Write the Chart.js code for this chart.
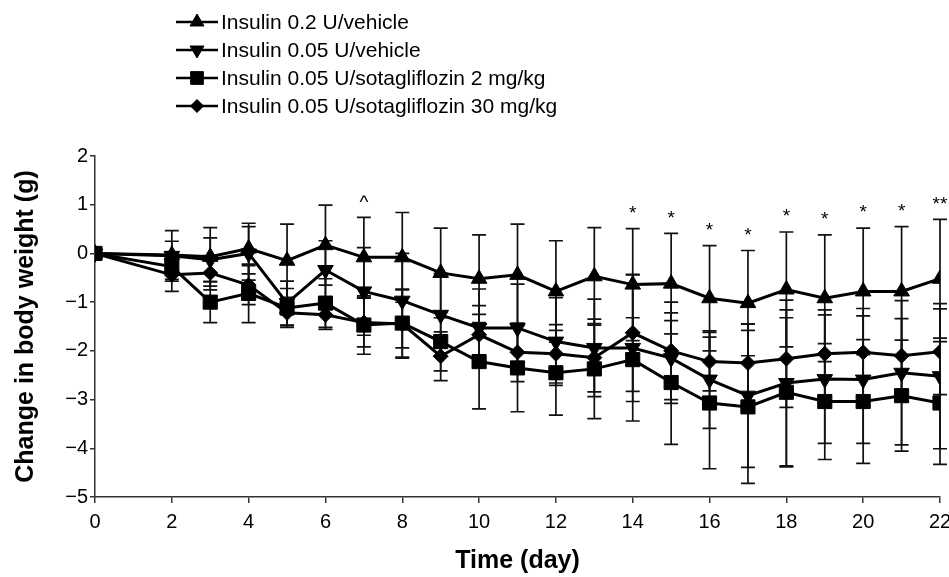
<!DOCTYPE html>
<html lang="en">
<head>
  <meta charset="UTF-8">
  <title>Change in body weight</title>
  <script src="https://cdn.jsdelivr.net/npm/chart.js"></script>
  <style>
    html, body { margin: 0; padding: 0; background: #fff; }
    #wrap { width: 949px; height: 577px; }
  </style>
</head>
<body>
<div id="wrap"><canvas id="weightChart" width="949" height="577"></canvas></div>

<script>
  // days on the x axis
  const days = [0, 2, 3, 4, 5, 6, 7, 8, 9, 10, 11, 12, 13, 14, 15, 16, 17, 18, 19, 20, 21, 22];

  const seriesNames = [
    'Insulin 0.2 U/vehicle',
    'Insulin 0.05 U/vehicle',
    'Insulin 0.05 U/sotagliflozin 2 mg/kg',
    'Insulin 0.05 U/sotagliflozin 30 mg/kg'
  ];

  // mean change in body weight (g)
  const ins02Vehicle = [0, -0.03, -0.07, 0.1, -0.15, 0.17, -0.08, -0.08, -0.4, -0.52, -0.44, -0.78, -0.47, -0.64, -0.62, -0.92, -1.02, -0.74, -0.92, -0.78, -0.78, -0.52];
  const ins005Vehicle = [0, -0.05, -0.13, 0.0, -1.02, -0.34, -0.78, -0.97, -1.26, -1.53, -1.53, -1.81, -1.94, -1.94, -2.15, -2.59, -2.92, -2.66, -2.58, -2.59, -2.45, -2.52];
  const ins005Sota2 = [0, -0.27, -1.0, -0.82, -1.12, -1.02, -1.47, -1.43, -1.81, -2.22, -2.35, -2.45, -2.37, -2.18, -2.65, -3.07, -3.15, -2.85, -3.04, -3.04, -2.92, -3.07];
  const ins005Sota30 = [0, -0.44, -0.4, -0.65, -1.22, -1.26, -1.42, -1.45, -2.11, -1.67, -2.03, -2.06, -2.14, -1.63, -2.0, -2.22, -2.25, -2.16, -2.06, -2.03, -2.1, -2.02];

  // error bar half-lengths
  const ins02VehicleErr = [0, 0.5, 0.6, 0.52, 0.75, 0.82, 0.82, 0.92, 0.92, 0.9, 1.04, 1.04, 1.0, 1.15, 1.03, 1.08, 1.08, 1.18, 1.3, 1.3, 1.33, 1.22];
  const ins005VehicleErr = [0, 0.3, 0.45, 0.55, 0.45, 0.6, 0.9, 0.97, 0.85, 0.8, 0.9, 0.9, 1.0, 1.5, 0.93, 1.0, 1.47, 1.7, 1.32, 1.31, 1.48, 1.49];
  const ins005Sota2Err = [0, 0.3, 0.42, 0.6, 0.4, 0.5, 0.6, 0.7, 0.6, 0.97, 0.9, 0.87, 1.02, 0.86, 1.27, 1.35, 1.57, 1.53, 1.19, 1.27, 1.14, 1.26];
  const ins005Sota30Err = [0, 0.34, 0.35, 0.4, 0.26, 0.3, 0.5, 0.7, 0.5, 0.6, 0.6, 0.6, 0.7, 1.2, 1.0, 0.6, 0.8, 1.0, 0.9, 0.9, 0.76, 0.88];

  // significance marks above the 0.2 U/vehicle group
  const sigDays = [7, 14, 15, 16, 17, 18, 19, 20, 21, 22];
  const sigMarks = ['^', '*', '*', '*', '*', '*', '*', '*', '*', '**'];

  const yTicks = [2, 1, 0, -1, -2, -3, -4, -5];

  const means = [ins02Vehicle, ins005Vehicle, ins005Sota2, ins005Sota30];
  const errs = [ins02VehicleErr, ins005VehicleErr, ins005Sota2Err, ins005Sota30Err];
  const styles = [
    { pointStyle: 'triangle', rot: 0, r: 9 },
    { pointStyle: 'triangle', rot: 180, r: 9 },
    { pointStyle: 'rect', rot: 0, r: 10 },
    { pointStyle: 'rectRot', rot: 0, r: 7.5 }
  ];

  const datasets = means.map((m, i) => ({
    label: seriesNames[i],
    data: days.map((d, j) => ({ x: d, y: m[j] })),
    borderColor: '#000',
    backgroundColor: '#000',
    borderWidth: 3,
    tension: 0,
    pointStyle: styles[i].pointStyle,
    pointRotation: styles[i].rot,
    pointRadius: styles[i].r,
    pointBorderWidth: 1,
    order: i === 2 ? 0 : 1
  }));

  const errorBars = {
    id: 'errorBars',
    beforeDatasetsDraw(chart) {
      const { ctx, scales: { x, y } } = chart;
      ctx.save();
      ctx.strokeStyle = '#111';
      ctx.lineWidth = 1.7;
      errs.forEach((e, i) => {
        days.forEach((d, j) => {
          if (!e[j]) return;
          const px = x.getPixelForValue(d);
          const top = y.getPixelForValue(means[i][j] + e[j]);
          const bot = y.getPixelForValue(means[i][j] - e[j]);
          ctx.beginPath();
          ctx.moveTo(px, top); ctx.lineTo(px, bot);
          ctx.moveTo(px - 7, top); ctx.lineTo(px + 7, top);
          ctx.moveTo(px - 7, bot); ctx.lineTo(px + 7, bot);
          ctx.stroke();
        });
      });
      ctx.restore();
    }
  };

  const sigLabels = {
    id: 'sigLabels',
    afterDatasetsDraw(chart) {
      const { ctx, scales: { x, y } } = chart;
      ctx.save();
      ctx.fillStyle = '#000';
      ctx.font = '19px "Liberation Sans", Arial, sans-serif';
      ctx.textAlign = 'center';
      ctx.textBaseline = 'middle';
      sigDays.forEach((d, k) => {
        const j = days.indexOf(d);
        const top = y.getPixelForValue(ins02Vehicle[j] + ins02VehicleErr[j]);
        ctx.fillText(sigMarks[k], x.getPixelForValue(d), top - 15);
      });
      ctx.restore();
    }
  };

  const lineLegend = {
    id: 'lineLegend',
    afterDraw(chart) {
      const ctx = chart.ctx;
      ctx.save();
      ctx.font = '21px "Liberation Sans", Arial, sans-serif';
      ctx.textBaseline = 'middle';
      ctx.textAlign = 'left';
      seriesNames.forEach((name, i) => {
        const yy = 22 + i * 28;
        ctx.strokeStyle = '#000';
        ctx.lineWidth = 2.5;
        ctx.beginPath();
        ctx.moveTo(176, yy); ctx.lineTo(218, yy);
        ctx.stroke();
        ctx.fillStyle = '#000';
        ctx.lineWidth = 1;
        Chart.helpers.drawPoint(ctx, {
          pointStyle: styles[i].pointStyle,
          rotation: styles[i].rot,
          radius: styles[i].r - 1,
          borderWidth: 1
        }, 197, yy);
        ctx.fillStyle = '#000';
        ctx.fillText(name, 221, yy + 1);
      });
      ctx.restore();
    }
  };

  const tickFont = { family: '"Liberation Sans", Arial, sans-serif', size: 20 };
  const titleFont = { family: '"Liberation Sans", Arial, sans-serif', size: 25, weight: 'bold' };

  new Chart(document.getElementById('weightChart'), {
    type: 'line',
    data: { datasets },
    plugins: [errorBars, sigLabels, lineLegend],
    options: {
      responsive: false,
      animation: false,
      layout: { autoPadding: false, padding: { top: 156, right: 9, left: 0, bottom: 0 } },
      plugins: { legend: { display: false }, tooltip: { enabled: false } },
      scales: {
        x: {
          type: 'linear',
          min: 0,
          max: 22,
          afterFit(scale) { scale.height = 80; scale.paddingLeft = 0; scale.paddingRight = 0; },
          ticks: { stepSize: 2, color: '#000', font: tickFont, padding: 7, maxRotation: 0 },
          grid: { drawOnChartArea: false, drawTicks: true, tickLength: 6, color: '#333', lineWidth: 1.5 },
          border: { color: '#333', width: 1.5 },
          title: { display: true, text: 'Time (day)', color: '#000', font: titleFont, padding: { top: 0, bottom: 1 } }
        },
        y: {
          min: -5,
          max: 2,
          afterFit(scale) { scale.width = 95; scale.paddingTop = 0; scale.paddingBottom = 0; },
          afterBuildTicks(scale) { scale.ticks = yTicks.map(v => ({ value: v })); },
          ticks: {
            color: '#000',
            font: tickFont,
            padding: 2,
            callback: v => (v < 0 ? '\u2212' + Math.abs(v) : String(v))
          },
          grid: { drawOnChartArea: false, drawTicks: true, tickLength: 5, color: '#333', lineWidth: 1.5 },
          border: { color: '#333', width: 1.5 },
          title: { display: true, text: 'Change in body weight (g)', color: '#000', font: titleFont, padding: { top: 11, bottom: 0 } }
        }
      }
    }
  });
</script>
</body>
</html>
